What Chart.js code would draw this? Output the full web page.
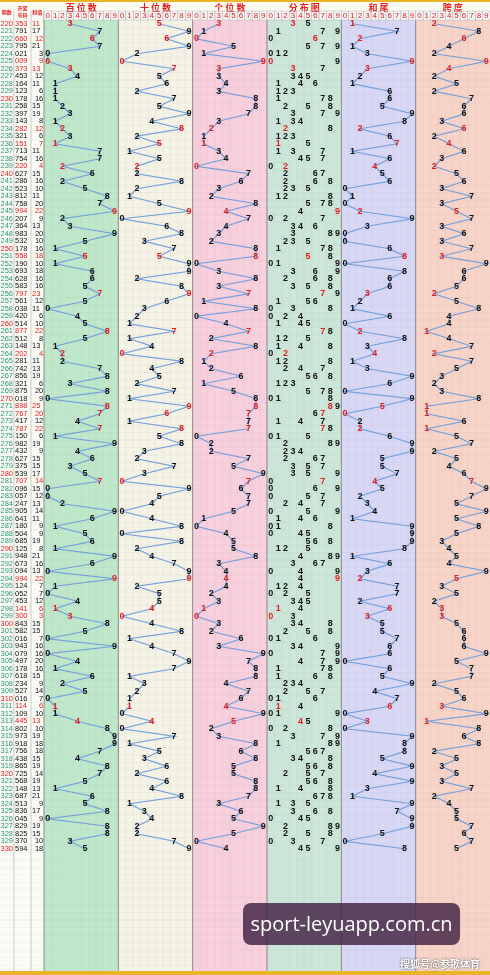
<!DOCTYPE html>
<html>
<head>
<meta charset="utf-8">
<script src="https://cdn.jsdelivr.net/npm/chart.js@4"></script>
<style>
  html, body { margin: 0; padding: 0; background: #fff; }
  #wrap { position: relative; width: 490px; height: 975px; }
  #mark { position: absolute; left: 243px; top: 903px; width: 217px; height: 42px;
          background: rgba(72, 40, 72, 0.85); border-radius: 8px; color: #fff;
          font: 20px "Open Sans", sans-serif; line-height: 42px; text-align: center; }
  #src { position: absolute; left: 400px; top: 956px; color: #fff;
         font: bold 10px "Noto Sans CJK SC", sans-serif; text-shadow: 0 0 2px #333; }
</style>
</head>
<body>
<div id="wrap">
  <canvas id="chart" width="490" height="975"></canvas>
  <div id="mark">sport-leyuapp.com.cn</div>
  <div id="src">搜狐号@参歌体育</div>
</div>
<script>
// periods and draws, read row by row
const firstPeriod = 220;
const draws = [
  '353','791','660','795','021','009','373','453','164','123',
  '178','258','397','143','282','321','151','713','754','220',
  '627','286','523','812','758','994','207','364','983','532',
  '178','558','190','693','628','583','797','561','038','420',
  '514','877','512','148','202','281','742','856','321','875',
  '018','898','767','417','787','150','982','432','627','375',
  '539','707','096','057','247','905','641','180','504','685',
  '125','948','673','094','994','124','052','453','141','300',
  '843','582','016','943','079','497','178','618','234','527',
  '016','114','109','445','802','973','918','756','438','865',
  '725','568','148','687','513','836','045','829','825','370',
  '594'
];
const zoneTitles = ['百位数', '十位数', '个位数', '分布图', '和尾', '跨度'];
const zoneColors = ['#bfe8cb', '#f5f2e6', '#f8cfdd', '#cce7da', '#d8d8f6', '#f7d4c7'];
const digitTicks = ['0','1','2','3','4','5','6','7','8','9'];
const lineColor = '#729fdc';

// values per zone, from the draws
const hundreds = draws.map(d => +d[0]);
const tens = draws.map(d => +d[1]);
const units = draws.map(d => +d[2]);
const sums = draws.map(d => +d[0] + +d[1] + +d[2]);
const sumTail = sums.map(s => s % 10);
const spans = draws.map((d, i) => Math.max(hundreds[i], tens[i], units[i]) - Math.min(hundreds[i], tens[i], units[i]));
const isPair = draws.map(d => new Set(d).size === 2);

const rows = draws.length;
const zoneSeries = { 0: hundreds, 1: tens, 2: units, 4: sumTail, 5: spans };

function zoneDataset(zone, values) {
  return {
    data: values.map((v, i) => ({ x: zone * 10 + v + 0.5, y: i + 0.5 })),
    showLine: true,
    borderColor: lineColor,
    borderWidth: 1.2,
    pointRadius: 0,
    tension: 0
  };
}

const gridPlugin = {
  id: 'grid',
  beforeDatasetsDraw(chart) {
    const { ctx, scales: { x, y } } = chart;
    const top = y.getPixelForValue(0), bottom = chart.height;
    const left0 = x.getPixelForValue(-5.92);
    ctx.save();
    // left table
    ctx.fillStyle = '#fbfbf6';
    ctx.fillRect(0, 0, x.getPixelForValue(0), chart.height);
    for (let z = 0; z < 6; z++) {
      const l = x.getPixelForValue(z * 10), r = x.getPixelForValue(z * 10 + 10);
      ctx.fillStyle = zoneColors[z];
      ctx.fillRect(l, top, r - l, bottom - top);
      ctx.strokeStyle = 'rgba(150,150,150,0.18)';
      ctx.lineWidth = 0.5;
      for (let c = 1; c < 10; c++) {
        const px = x.getPixelForValue(z * 10 + c);
        ctx.beginPath(); ctx.moveTo(px, top); ctx.lineTo(px, bottom); ctx.stroke();
      }
      ctx.strokeStyle = '#888';
      ctx.lineWidth = 1;
      ctx.beginPath(); ctx.moveTo(l, 0); ctx.lineTo(l, bottom); ctx.stroke();
    }
    ctx.strokeStyle = 'rgba(150,150,150,0.15)';
    ctx.lineWidth = 0.5;
    for (let i = 0; i < 127; i++) {
      const py = y.getPixelForValue(i);
      ctx.beginPath(); ctx.moveTo(left0, py); ctx.lineTo(chart.width, py); ctx.stroke();
    }
    // table column lines
    ctx.strokeStyle = '#999';
    [-4.05, -1.75].forEach(v => {
      const px = x.getPixelForValue(v);
      ctx.beginPath(); ctx.moveTo(px, 0); ctx.lineTo(px, bottom); ctx.stroke();
    });
    // header
    const hRow = y.getPixelForValue(-1.2);
    ctx.fillStyle = '#fdfcf3';
    ctx.fillRect(0, 0, chart.width, hRow);
    ctx.fillStyle = '#f4f4f4';
    ctx.fillRect(x.getPixelForValue(0), hRow, chart.width, top - hRow);
    ctx.fillStyle = '#e9b526';
    ctx.fillRect(0, 0, chart.width, 2);
    ctx.fillRect(0, chart.height - 4, chart.width, 4);
    ctx.textAlign = 'center';
    ctx.textBaseline = 'middle';
    ctx.fillStyle = '#e02020';
    ctx.font = 'bold 9px "Noto Sans CJK SC"';
    zoneTitles.forEach((t, z) => {
      ctx.fillText(t.split('').join(' '), x.getPixelForValue(z * 10 + 5), (2 + hRow) / 2 + 1);
    });
    ctx.font = '8px "Liberation Sans"';
    for (let z = 0; z < 6; z++) {
      digitTicks.forEach((d, c) => {
        const px = x.getPixelForValue(z * 10 + c);
        ctx.strokeStyle = '#bbb';
        ctx.strokeRect(px, hRow, x.getPixelForValue(1) - x.getPixelForValue(0), top - hRow);
        ctx.fillText(d, x.getPixelForValue(z * 10 + c + 0.5), (hRow + top) / 2 + 0.5);
      });
    }
    ctx.font = 'bold 5px "Noto Sans CJK SC"';
    ctx.fillText('期数', x.getPixelForValue(-5), y.getPixelForValue(-1));
    ctx.fillText('开奖', x.getPixelForValue(-2.9), y.getPixelForValue(-1.6));
    ctx.fillText('号码', x.getPixelForValue(-2.9), y.getPixelForValue(-0.6));
    ctx.fillText('和值', x.getPixelForValue(-0.9), y.getPixelForValue(-1));
    ctx.restore();
  },
  afterDatasetsDraw(chart) {
    const { ctx, scales: { x, y } } = chart;
    ctx.save();
    ctx.textBaseline = 'middle';
    for (let i = 0; i < rows; i++) {
      const py = y.getPixelForValue(i + 0.5);
      const red = isPair[i];
      // left table
      ctx.font = '7.5px "Liberation Sans Narrow", "Liberation Sans"';
      ctx.textAlign = 'left';
      const period = firstPeriod + i;
      ctx.fillStyle = period % 10 === 0 ? '#e02020' : '#2a9870';
      ctx.fillText(String(period), 0.5, py);
      ctx.fillStyle = red ? '#e02020' : '#111';
      ctx.fillText(draws[i], x.getPixelForValue(-3.9), py);
      const s = sums[i];
      if (s >= 11 && s % 2 === 1) {
        ctx.fillText(String(s), x.getPixelForValue(-1.6), py);
      } else {
        ctx.textAlign = 'right';
        ctx.fillText(String(s), x.getPixelForValue(-0.1), py);
      }
      // zone digits
      ctx.font = 'bold 9px "Liberation Sans"';
      ctx.textAlign = 'center';
      for (const z in zoneSeries) {
        const v = zoneSeries[z][i];
        ctx.fillStyle = red ? '#e02020' : '#111';
        ctx.fillText(String(v), x.getPixelForValue(z * 10 + v + 0.5), py);
      }
      // distribution
      const digits = draws[i].split('').map(Number);
      [...new Set(digits)].forEach(d => {
        const cnt = digits.filter(v => v === d).length;
        ctx.fillStyle = cnt > 1 ? '#e02020' : '#111';
        ctx.fillText(String(d), x.getPixelForValue(30 + d + 0.5), py);
      });
    }
    ctx.restore();
  }
};

new Chart(document.getElementById('chart'), {
  type: 'scatter',
  data: {
    datasets: Object.keys(zoneSeries).map(z => zoneDataset(+z, zoneSeries[z]))
  },
  options: {
    responsive: false,
    animation: false,
    layout: { padding: 0 },
    plugins: { legend: { display: false }, tooltip: { enabled: false } },
    scales: {
      x: { type: 'linear', display: false, min: -5.92, max: 60 },
      y: { type: 'linear', display: false, min: -2.67, max: 127.33, reverse: true }
    }
  },
  plugins: [gridPlugin]
});
</script>
</body>
</html>
